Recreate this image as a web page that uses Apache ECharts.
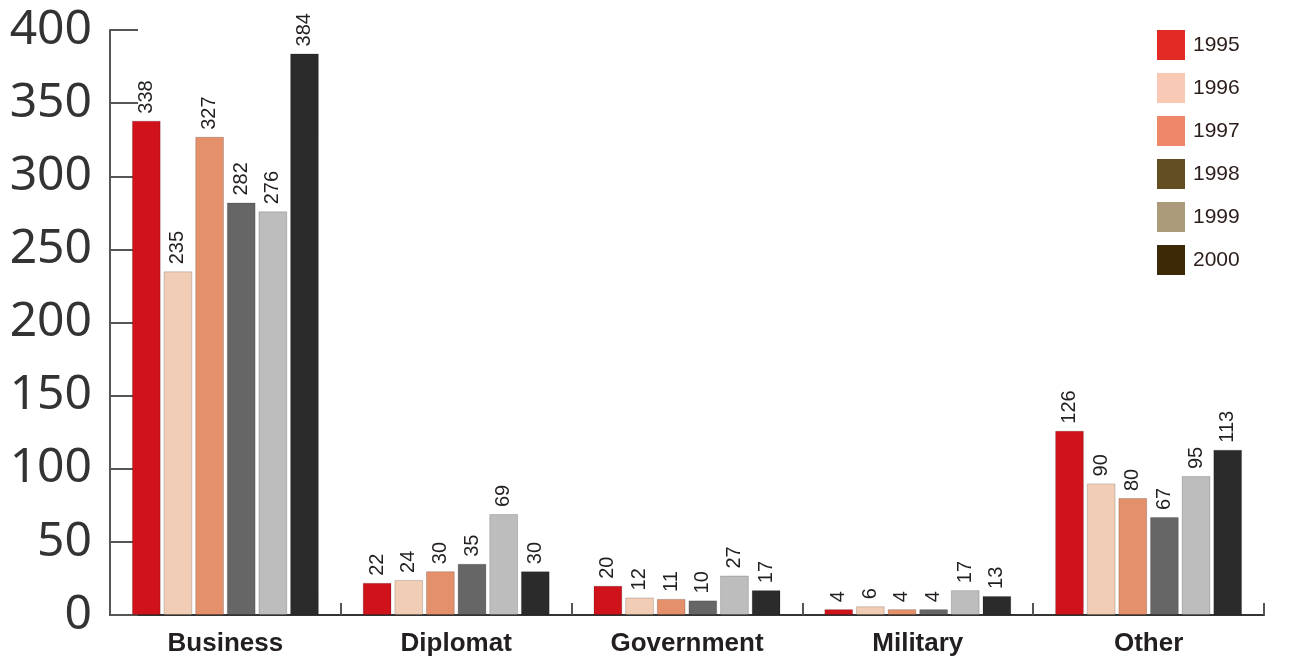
<!DOCTYPE html>
<html>
<head>
<meta charset="utf-8">
<script src="https://cdn.jsdelivr.net/npm/echarts@6/dist/echarts.min.js"></script>
<style>
    html, body { margin: 0; padding: 0; background: #fff; }
    #bar_groups { width: 1291px; height: 658px; }
</style>
</head>
<body>
<div id="bar_groups"></div>
<script>
// Data
var categories = ['Business', 'Diplomat', 'Government', 'Military', 'Other'];
var years = ['1995', '1996', '1997', '1998', '1999', '2000'];
var values1995 = [338, 22, 20, 4, 126];
var values1996 = [235, 24, 12, 6, 90];
var values1997 = [327, 30, 11, 4, 80];
var values1998 = [282, 35, 10, 4, 67];
var values1999 = [276, 69, 27, 17, 95];
var values2000 = [384, 30, 17, 13, 113];
var yTicks = [0, 50, 100, 150, 200, 250, 300, 350, 400];

// Bar fills and legend swatches (the swatches differ in the source)
var barColors = ['#d0121b', '#f2cdb5', '#e3906b', '#666666', '#bdbdbd', '#2b2b2b'];
var swatchColors = ['#e32b26', '#f8c9b4', '#ef876a', '#634d22', '#ab9b7b', '#3b2a05'];

var bar_groups_element = document.getElementById('bar_groups');
var bar_groups = echarts.init(bar_groups_element);

var allValues = [values1995, values1996, values1997, values1998, values1999, values2000];

// Build series
var series = years.map(function (year, i) {
    return {
        name: year,
        type: 'bar',
        barGap: '10%',
        barCategoryGap: '19%',
        itemStyle: {
            color: barColors[i],
            borderColor: 'rgba(0,0,0,0.18)',
            borderWidth: 1
        },
        label: {
            show: true,
            position: 'top',
            rotate: 90,
            align: 'left',
            verticalAlign: 'middle',
            distance: 7,
            color: '#231f20',
            fontFamily: 'Liberation Sans, Arial, sans-serif',
            fontSize: 20
        },
        data: allValues[i]
    };
});

bar_groups.setOption({
    animation: false,

    textStyle: {
        fontFamily: 'Liberation Sans, Arial, sans-serif'
    },

    grid: {
        left: 110,
        right: 27,
        top: 30,
        bottom: 43
    },

    legend: {
        orient: 'vertical',
        left: 1152,
        top: 25,
        itemWidth: 28,
        itemHeight: 30,
        itemGap: 13,
        icon: 'rect',
        textStyle: {
            color: '#2b1d1a',
            fontSize: 21,
            padding: [0, 0, 0, 3]
        },
        data: years.map(function (year, i) {
            return { name: year, itemStyle: { color: swatchColors[i], borderWidth: 0 } };
        })
    },

    xAxis: {
        type: 'category',
        data: categories,
        axisLine: {
            lineStyle: { color: '#333', width: 2 }
        },
        axisTick: {
            show: true,
            inside: true,
            length: 12,
            lineStyle: { color: '#555', width: 2 }
        },
        axisLabel: {
            color: '#231f20',
            fontWeight: 'bold',
            fontSize: 26,
            margin: 16
        }
    },

    yAxis: {
        type: 'value',
        min: yTicks[0],
        max: yTicks[yTicks.length - 1],
        interval: 50,
        axisLine: {
            show: true,
            lineStyle: { color: '#555', width: 2 }
        },
        axisTick: {
            show: true,
            inside: true,
            length: 28,
            lineStyle: { color: '#555', width: 2 }
        },
        splitLine: { show: false },
        axisLabel: {
            color: '#333',
            fontFamily: 'Noto Sans, sans-serif',
            fontSize: 48,
            margin: 18
        }
    },

    series: series
});
</script>
</body>
</html>
